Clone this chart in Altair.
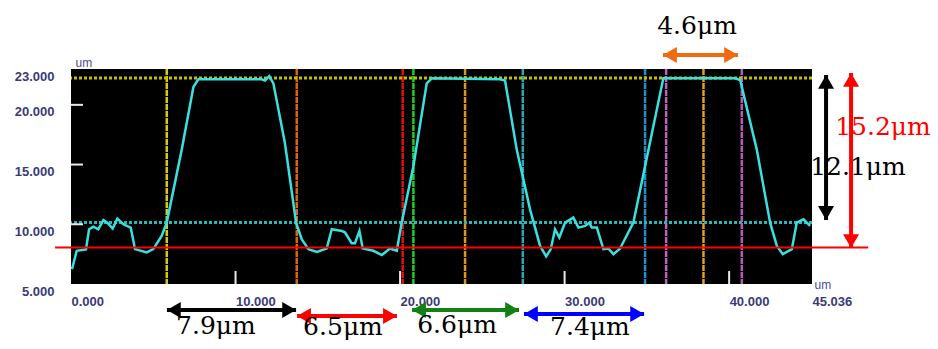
import altair as alt
import pandas as pd

# ---------------- data ----------------
X_MAX = 45.036
Y_MIN, Y_MAX = 5.0, 23.0
W, H = 741, 215

profile_x = [0.06, 0.35, 0.91, 1.10, 1.36, 1.66, 1.97, 2.21, 2.53, 2.82, 3.18, 3.63, 3.89, 4.60,
             5.00, 5.51, 5.82, 6.73, 7.44, 7.74, 11.59, 11.79, 12.05, 12.30, 13.00, 13.68,
             14.02, 14.43, 14.94, 15.54, 15.85, 16.46, 16.66, 17.06, 17.26, 17.53, 17.73,
             18.38, 18.89, 19.39, 19.80, 20.10, 20.81, 21.62, 21.93, 26.08, 26.38, 27.09,
             27.90, 28.51, 28.88, 29.16, 29.42, 29.68, 30.03, 30.53, 30.84, 31.25, 31.51,
             31.65, 31.96, 32.36, 32.66, 32.97, 33.37, 34.18, 34.89, 36.00, 40.36, 40.67,
             41.68, 42.49, 42.90, 43.26, 43.81, 44.11, 44.52, 44.92]
profile_y = [6.25, 7.78, 7.90, 9.58, 9.80, 9.58, 10.36, 10.14, 9.64, 10.47, 10.00, 9.72, 7.92, 7.64,
             7.92, 9.03, 10.14, 16.25, 21.50, 22.14, 22.14, 22.03, 22.40, 21.80, 16.80, 10.14,
             8.75, 7.92, 7.69, 7.97, 9.58, 9.44, 9.31, 8.42, 8.42, 9.44, 7.97,
             7.78, 7.42, 7.97, 7.78, 10.14, 14.86, 21.80, 22.22, 22.14, 22.03, 16.25,
             11.25, 8.19, 7.31, 7.92, 9.58, 8.89, 10.14, 10.56, 9.72, 9.86, 10.14,
             9.72, 9.72, 7.92, 7.97, 7.50, 7.97, 10.14, 14.86, 22.22, 22.22, 22.08,
             16.25, 10.14, 8.19, 7.50, 7.92, 10.14, 10.42, 9.86]

cursor_x = [5.82, 13.72, 20.16, 20.81, 23.95, 27.46, 34.89, 36.17, 38.44, 40.77]
cursor_color = ["#d8cc00", "#e0620c", "#e01010", "#20d020", "#e09420",
                "#2aa8b8", "#2090c8", "#c060c0", "#e0a020", "#b858b8"]

level_top = 22.25
level_mid = 10.14
level_base = 8.06
base_line_x = [-0.97, 48.45]

x_tick_values = [0, 10, 20, 30, 40, 45.036]
y_tick_values = [23, 20, 15, 10, 5]
inner_x_ticks = [10, 20, 30, 40]
inner_y_ticks = [10, 15, 20]

# arrows: tips (x1,y1) -> (x2,y2)
arrow_x1 = [35.98, 45.89, 47.41, 5.83, 13.74, 20.73, 27.53]
arrow_y1 = [24.17, 22.50, 22.67, 2.82, 2.32, 2.82, 2.49]
arrow_x2 = [40.54, 45.89, 47.41, 13.68, 19.81, 27.23, 34.83]
arrow_y2 = [24.17, 10.36, 8.01, 2.82, 2.32, 2.82, 2.49]
arrow_color = ["#f06a10", "#000000", "#ff0000", "#000000", "#ff0000", "#128012", "#0000ff"]

label_text = ["4.6μm", "12.1μm", "15.2μm", "7.9μm", "6.5μm", "6.6μm", "7.4μm"]
label_x = [38.05, 47.83, 49.35, 8.81, 16.53, 23.46, 31.54]
label_y = [26.6, 14.8, 18.14, 1.45, 1.36, 1.60, 1.36]
label_color = ["#000000", "#000000", "#ff0000", "#000000", "#000000", "#000000", "#000000"]

# ---------------- build ----------------
px_x = W / X_MAX
px_y = H / (Y_MAX - Y_MIN)
HEAD = 256
h_half = (3 ** 0.5) / 2 * (HEAD ** 0.5) / 2

xs = alt.Scale(domain=[0, X_MAX], nice=False, zero=False)
ys = alt.Scale(domain=[Y_MIN, Y_MAX], nice=False, zero=False)

prof_df = pd.DataFrame({"x": profile_x, "y": profile_y})
cur_df = pd.DataFrame({"x": cursor_x, "c": cursor_color})
lev_df = pd.DataFrame({"y": [level_top, level_mid], "c": ["#c0c000", "#28b8b8"]})
base_df = pd.DataFrame({"x": [base_line_x[0]], "x2": [base_line_x[1]], "y": [level_base]})
arr_df = pd.DataFrame({"x": arrow_x1, "y": arrow_y1, "x2": arrow_x2, "y2": arrow_y2, "c": arrow_color})

heads = []
for x1, y1, x2, y2, c in zip(arrow_x1, arrow_y1, arrow_x2, arrow_y2, arrow_color):
    if y1 == y2:
        heads.append({"x": x1 + h_half / px_x, "y": y1, "s": "triangle-left", "c": c})
        heads.append({"x": x2 - h_half / px_x, "y": y2, "s": "triangle-right", "c": c})
    else:
        heads.append({"x": x1, "y": y1 - h_half / px_y, "s": "triangle-up", "c": c})
        heads.append({"x": x2, "y": y2 + h_half / px_y, "s": "triangle-down", "c": c})
head_df = pd.DataFrame(heads)
lab_df = pd.DataFrame({"t": label_text, "x": label_x, "y": label_y, "c": label_color})

axis_color = "#3a3a78"
x_axis = alt.Axis(values=x_tick_values, format=".3f", labelAlign="left", labelBaseline="top",
                  labelPadding=11, ticks=False, domain=False, grid=False, labelFlush=False,
                  labelOverlap=False, labelFont="Liberation Sans", labelFontSize=13,
                  labelFontWeight="bold", labelColor=axis_color, title="um", titleAngle=0,
                  titleX=743, titleY=0, titleAlign="left", titleBaseline="middle",
                  titleFont="Liberation Sans", titleFontSize=12, titleFontWeight="normal",
                  titleColor="#4a4a9a")
y_axis = alt.Axis(values=y_tick_values, format=".3f", labelAlign="right", labelBaseline="middle",
                  labelOffset=7, labelPadding=17, ticks=False, domain=False, grid=False,
                  labelFlush=False, labelOverlap=False, labelFont="Liberation Sans",
                  labelFontSize=13, labelFontWeight="bold", labelColor=axis_color, title="um",
                  titleAngle=0, titleX=4, titleY=-7, titleAlign="left", titleBaseline="middle",
                  titleFont="Liberation Sans", titleFontSize=12, titleFontWeight="normal",
                  titleColor="#4a4a9a")


def X(field="x"):
    return alt.X(f"{field}:Q", scale=xs, axis=x_axis)


def Y(field="y"):
    return alt.Y(f"{field}:Q", scale=ys, axis=y_axis)


cursors = alt.Chart(cur_df).mark_rule(strokeWidth=2.5, strokeDash=[6, 1]).encode(
    x=X(), color=alt.Color("c:N", scale=None))
levels = alt.Chart(lev_df).mark_rule(strokeWidth=3, strokeDash=[3, 2]).encode(
    y=Y(), color=alt.Color("c:N", scale=None))
profile = alt.Chart(prof_df).mark_line(color="#38e0e0", strokeWidth=2.5).encode(x=X(), y=Y())
xt = alt.Chart(pd.DataFrame({"x": inner_x_ticks})).mark_rule(color="#e8e8e8", strokeWidth=2).encode(
    x=X(), y=alt.value(H), y2=alt.value(H - 13))
yt = alt.Chart(pd.DataFrame({"y": inner_y_ticks})).mark_rule(color="#e8e8e8", strokeWidth=2).encode(
    y=Y(), x=alt.value(0), x2=alt.value(12))
base = alt.Chart(base_df).mark_rule(color="#ff0000", strokeWidth=2, clip=False).encode(
    x=X(), x2="x2:Q", y=Y())
arrows = alt.Chart(arr_df).mark_rule(strokeWidth=4, clip=False).encode(
    x=X(), x2="x2:Q", y=Y(), y2="y2:Q", color=alt.Color("c:N", scale=None))
heads_l = alt.Chart(head_df).mark_point(filled=True, opacity=1, size=HEAD, strokeWidth=0, clip=False).encode(
    x=X(), y=Y(), shape=alt.Shape("s:N", scale=None), color=alt.Color("c:N", scale=None))
labels = alt.Chart(lab_df).mark_text(font="DejaVu Serif", fontSize=25, align="center",
                                     baseline="middle", clip=False).encode(
    x=X(), y=Y(), text="t:N", color=alt.Color("c:N", scale=None))

chart = alt.layer(cursors, levels, profile, xt, yt, base, arrows, heads_l, labels).properties(
    width=W, height=H,
    autosize=alt.AutoSizeParams(type="none"),
    padding={"left": 63, "top": 61, "right": 118, "bottom": 57},
    background="white",
).configure_view(fill="black", strokeWidth=0)

chart.save("out.html", embed_options={"renderer": "svg", "actions": False})
